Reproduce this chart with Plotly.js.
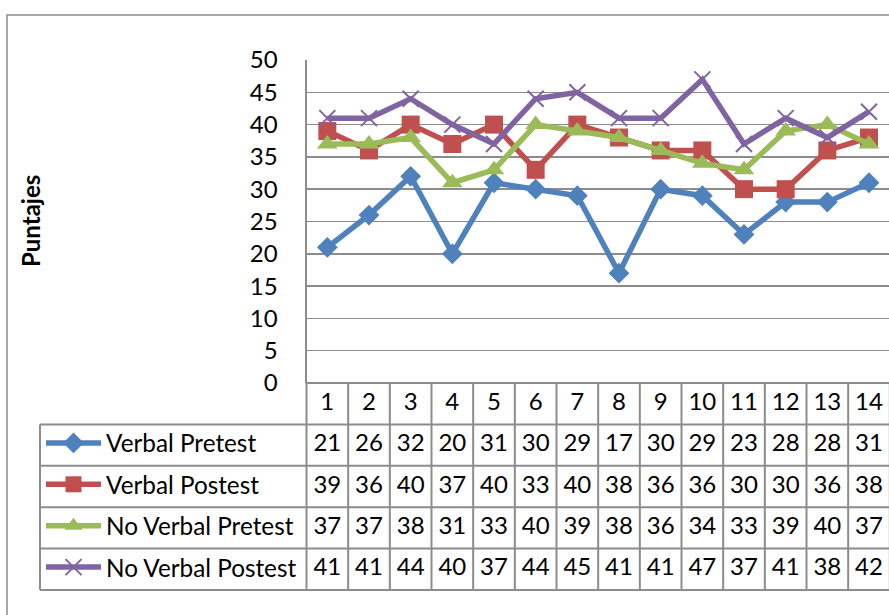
<!DOCTYPE html>
<html>
<head>
<meta charset="utf-8">
<script src="https://cdn.plot.ly/plotly-3.0.1.min.js"></script>
<style>html,body{margin:0;padding:0;background:#fff;}#chart{width:889px;height:615px;}</style>
</head>
<body>
<div id="chart"></div>
<script>
// ---- data ----
var categories = [1, 2, 3, 4, 5, 6, 7, 8, 9, 10, 11, 12, 13, 14];
var seriesNames = ["Verbal Pretest", "Verbal Postest", "No Verbal Pretest", "No Verbal Postest"];
var verbalPretest = [21, 26, 32, 20, 31, 30, 29, 17, 30, 29, 23, 28, 28, 31];
var verbalPostest = [39, 36, 40, 37, 40, 33, 40, 38, 36, 36, 30, 30, 36, 38];
var noVerbalPretest = [37, 37, 38, 31, 33, 40, 39, 38, 36, 34, 33, 39, 40, 37];
var noVerbalPostest = [41, 41, 44, 40, 37, 44, 45, 41, 41, 47, 37, 41, 38, 42];
var yTickValues = [0, 5, 10, 15, 20, 25, 30, 35, 40, 45, 50];
var yTitle = "Puntajes";

// ---- layout geometry (pixels) ----
var W = 889, H = 615;
var FONT = "Lato, 'Open Sans', sans-serif";
var FS = 24;
var LFS = 24.3;
var plotLeft = 306.5, plotTop = 60, plotBottom = 383, tableBottom = 590, legendLeft = 40;
var xRange = [0.5, 14.48];
var colW = (W - plotLeft) / (xRange[1] - xRange[0]);
var nRows = 5;
var rowH = (tableBottom - plotBottom) / nRows;
function px(x) { return x / W; }
function py(y) { return (H - y) / H; }

var allSeries = [verbalPretest, verbalPostest, noVerbalPretest, noVerbalPostest];
var colors = ["#4F81BD", "#C0504D", "#9BBB59", "#8064A2"];
var symbols = ["diamond", "square", "triangle-up", "x-thin"];
var sizes = [16, 18, 18, 16];
var legendIds = ["legend", "legend2", "legend3", "legend4"];

var traces = [];
allSeries.forEach(function (vals, i) {
  traces.push({
    type: "scatter", mode: "lines+markers",
    x: categories, y: vals, name: seriesNames[i],
    xaxis: "x", yaxis: "y",
    legend: legendIds[i],
    line: { color: colors[i], width: 5.5 },
    marker: {
      symbol: symbols[i], size: sizes[i], color: colors[i],
      line: { color: colors[i], width: symbols[i] === "x-thin" ? 2 : 0 }
    },
    cliponaxis: false,
    hoverinfo: "skip"
  });
});

// table text: header row (categories) and one row per series
var tx = [], ty = [], tt = [];
categories.forEach(function (c) { tx.push(c); ty.push(nRows - 0.5); tt.push(String(c)); });
allSeries.forEach(function (vals, i) {
  vals.forEach(function (v, j) { tx.push(categories[j]); ty.push(nRows - 1.5 - i); tt.push(String(v)); });
});
traces.push({
  type: "scatter", mode: "text", x: tx, y: ty, text: tt,
  xaxis: "x", yaxis: "y2", showlegend: false, cliponaxis: false, hoverinfo: "skip",
  textposition: "middle center",
  textfont: { family: FONT, size: FS, color: "#000" }
});

var gridColor = "#8c8c8c";
var shapes = [];
// outer chart border
shapes.push({ type: "rect", xref: "paper", yref: "paper", x0: px(7), x1: 1.02, y0: py(15), y1: -0.02,
  line: { color: gridColor, width: 1.5 }, fillcolor: "rgba(0,0,0,0)", layer: "below" });
// table horizontal lines
for (var r = 0; r <= nRows; r++) {
  var yy = plotBottom + r * rowH;
  shapes.push({ type: "line", xref: "paper", yref: "paper",
    x0: r === 0 ? px(plotLeft) : px(legendLeft), x1: 1.01, y0: py(yy), y1: py(yy),
    line: { color: gridColor, width: 2 } });
}
// table vertical lines
for (var c = 0; c <= categories.length; c++) {
  var xx = plotLeft + c * colW;
  shapes.push({ type: "line", xref: "paper", yref: "paper",
    x0: px(xx), x1: px(xx), y0: py(plotBottom), y1: py(tableBottom),
    line: { color: gridColor, width: 2 } });
}
// legend column left border
shapes.push({ type: "line", xref: "paper", yref: "paper",
  x0: px(legendLeft), x1: px(legendLeft), y0: py(plotBottom + rowH), y1: py(tableBottom),
  line: { color: gridColor, width: 2 } });

var layout = {
  width: W, height: H,
  margin: { l: 0, r: 0, t: 0, b: 0 },
  paper_bgcolor: "#fff", plot_bgcolor: "#fff",
  font: { family: FONT, size: FS, color: "#000" },
  xaxis: {
    domain: [px(plotLeft), 1], range: xRange, anchor: "y",
    showgrid: false, zeroline: false, showticklabels: false, ticks: "",
    showline: false
  },
  yaxis: {
    domain: [py(plotBottom), py(plotTop)], range: [0, 50], anchor: "x",
    tickvals: yTickValues, ticktext: yTickValues.map(String),
    showgrid: true, gridcolor: gridColor, gridwidth: 1.5,
    zeroline: false, showline: true, linecolor: gridColor, linewidth: 2,
    ticks: "", ticklabelstandoff: 22,
    tickfont: { family: FONT, size: FS, color: "#000" }
  },
  yaxis2: {
    domain: [py(tableBottom), py(plotBottom)], range: [0, nRows], anchor: "x",
    showgrid: false, zeroline: false, showticklabels: false, ticks: "", showline: false
  },
  shapes: shapes,
  annotations: [{
    text: "<b>" + yTitle + "</b>", xref: "paper", yref: "paper",
    x: px(30), y: py(221), textangle: -90, showarrow: false,
    font: { family: FONT, size: 24, color: "#000" }, xanchor: "center", yanchor: "middle"
  }],
  showlegend: true
};
legendIds.forEach(function (id, i) {
  var cy = plotBottom + rowH * (i + 1.5);
  layout[id] = {
    x: px(legendLeft + 1), xanchor: "left", y: py(cy - 2), yanchor: "middle",
    bgcolor: "rgba(0,0,0,0)", borderwidth: 0, itemwidth: 55,
    font: { family: FONT, size: LFS, color: "#000" },
    itemclick: false, itemdoubleclick: false
  };
});

Plotly.newPlot("chart", traces, layout, { staticPlot: true, displayModeBar: false });
</script>
</body>
</html>
